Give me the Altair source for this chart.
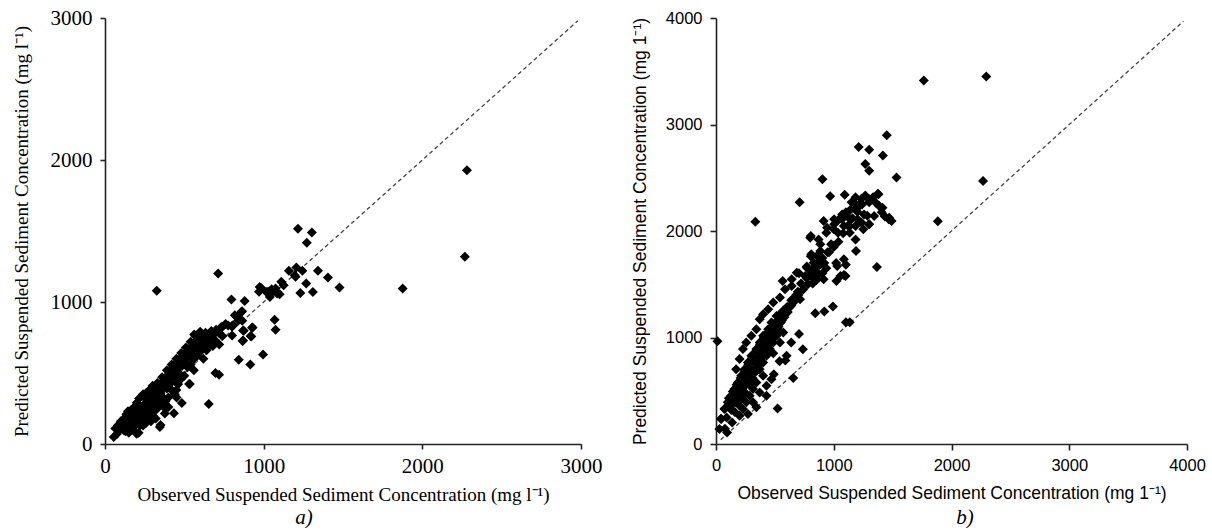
import altair as alt
import pandas as pd

# ---------------- Panel a data (observed, predicted) ----------------
a_obs = [
    55, 65, 75, 90, 100, 110, 120, 130, 140, 150,
    155, 160, 170, 175, 180, 190, 195, 200, 205, 210,
    215, 220, 225, 230, 235, 240, 245, 250, 255, 260,
    265, 270, 275, 280, 285, 290, 295, 300, 305, 310,
    315, 320, 330, 335, 340, 345, 350, 355, 360, 365,
    370, 375, 380, 385, 390, 395, 400, 405, 410, 415,
    420, 425, 430, 435, 440, 445, 450, 455, 460, 465,
    470, 475, 480, 485, 490, 495, 500, 510, 515, 520,
    530, 535, 540, 550, 555, 560, 570, 575, 580, 590,
    600, 610, 620, 630, 640, 650, 660, 670, 680, 690,
    700, 720, 740, 760,
    120, 135, 145, 165, 185, 100, 80, 200, 215, 240,
    260, 280, 300, 250, 270, 240, 180, 160, 310, 330,
    300, 320, 350, 380, 400, 420, 440, 460, 480, 500,
    520, 540, 560, 580, 600, 620, 640, 660, 680, 700,
    720, 740, 250, 270, 300, 330, 360, 390, 420, 450,
    480, 510, 540, 570, 600, 560, 620, 450, 380, 150,
    170, 130, 220, 260, 290,
    2281, 2268, 1876, 1478, 1405, 1342, 1216, 1304, 1272, 1159,
    1206, 1244, 1201, 1268, 1231, 1310, 1111, 1126, 1101, 1195,
    1075, 1056, 1039, 1027, 986, 971, 1017, 975, 1050, 1085,
    1069, 1075, 996, 843, 916, 930, 918, 880, 797, 859,
    832, 807, 865, 800, 867, 875, 729, 713, 326, 654,
    696, 719, 562, 633, 530, 451, 484, 377, 434, 350,
    199, 459, 535, 400, 346, 212,
    801, 870, 927, 870, 922, 803, 734, 776, 818, 864, 839,
]
a_pred = [
    50, 110, 70, 95, 135, 120, 95, 155, 140, 175,
    120, 205, 180, 150, 215, 190, 235, 170, 210, 250,
    200, 180, 230, 150, 265, 210, 190, 240, 285, 220,
    305, 250, 200, 270, 325, 290, 240, 345, 300, 265,
    365, 320, 385, 340, 300, 405, 360, 425, 385, 330,
    445, 410, 465, 420, 390, 485, 450, 505, 470, 430,
    525, 490, 545, 510, 470, 555, 520, 575, 540, 500,
    585, 560, 605, 550, 625, 590, 570, 635, 600, 655,
    620, 675, 640, 690, 660, 705, 680, 725, 700, 745,
    715, 765, 735, 700, 775, 750, 725, 795, 765, 735,
    805, 780, 825, 845,
    180, 210, 230, 240, 260, 160, 130, 290, 320, 350,
    360, 380, 410, 160, 170, 130, 120, 100, 230, 250,
    200, 180, 280, 300, 260, 380, 350, 420, 460, 480,
    540, 560, 600, 620, 650, 690, 660, 700, 690, 720,
    700, 760, 330, 350, 380, 430, 470, 520, 560, 600,
    640, 680, 720, 760, 790, 520, 600, 380, 250, 80,
    110, 90, 130, 150, 160,
    1927, 1319, 1095, 1102, 1172, 1220, 1515, 1489, 1418, 1220,
    1243, 1220, 1177, 1130, 1064, 1071, 1142, 1118, 1054, 1189,
    1095, 1072, 1036, 1072, 1096, 1072, 1071, 1106, 1090, 1060,
    875, 804, 630, 594, 559, 821, 761, 1007, 1017, 929,
    894, 835, 868, 828, 725, 797, 821, 1200, 1079, 281,
    500, 488, 771, 783, 422, 328, 288, 215, 217, 134,
    73, 422, 422, 328, 120, 80,
    764, 800, 818, 729, 757, 835, 823, 835, 906, 934, 870,
]

# ---------------- Panel b data (observed, predicted) ----------------
b_obs = [
    1765, 2295, 2268, 1884, 334, 12, 523, 1450, 1212, 1301,
    1417, 1268, 1301, 1533, 904, 710, 970, 1093, 1367, 993,
    920, 843, 1103, 1136, 656, 738, 705, 639, 589, 540,
    566, 643, 486, 491,
    1185, 1235, 1268, 1334, 1374, 1301, 1152, 1185, 1103, 1136,
    1069, 1003, 1036, 1185, 1235, 1301, 1384, 1407, 1434, 1467,
    1185, 1285, 1218,
    800, 886, 977, 1000, 943, 914, 809, 786, 857, 914,
    1029, 1086, 1057, 1100, 1023, 1251, 1189, 1171, 1143, 1229,
    1300, 1357, 1380, 1414, 1471, 1491, 1343, 1300, 1257, 1043,
    1071, 1114, 1143,
    993, 947, 904, 871, 828, 805, 771, 722, 695, 672,
    639, 606, 573, 533, 507, 473, 440, 407, 374, 341,
    308, 275, 242, 209, 175, 142, 109, 76, 43, 76,
    643, 729, 757, 771, 829, 857, 886, 714, 657, 600,
    557, 514, 471, 443, 400, 371, 343, 300, 271, 243,
    214, 186, 157, 129, 100, 71, 43, 29,
    514, 571, 543, 486, 457, 429, 400, 371, 400, 343,
    314, 286, 257, 229, 200, 371, 429, 314, 343, 271,
    137, 94, 429, 471, 600,
    200, 229, 257, 300, 343, 371, 400, 443, 486, 543,
    586, 686, 171,
    120, 150, 180, 210, 240, 270, 300, 330, 360, 390,
    420, 450, 480, 510, 540, 570, 160, 190, 220, 250,
    280, 310, 340, 370, 400, 430, 460, 490, 520, 550,
    580, 610, 640, 670, 700, 740, 780, 820, 850, 880,
    920, 960, 1000, 1040, 1080, 1120, 1160, 1200, 1240,
    1020, 1086, 1103, 937, 904, 854, 821, 805, 771, 705,
    1003, 1086, 1136, 1202, 937, 871, 805,
    90, 130, 170, 200, 230, 260, 290, 320, 350, 380,
    410, 440, 470, 500, 530, 560, 590, 620, 650, 680,
    150, 190, 230, 270, 310, 350, 390, 430, 470, 510,
]
b_pred = [
    3413, 3451, 2470, 2092, 2086, 965, 333, 2899, 2788, 2762,
    2708, 2629, 2565, 2502, 2486, 2270, 2327, 2340, 1661, 1292,
    1245, 1228, 1143, 1143, 619, 889, 1032, 952, 784, 778,
    1531, 1547, 853, 656,
    2318, 2302, 2334, 2318, 2350, 2270, 2270, 2207, 2175, 2048,
    2111, 2111, 1984, 2048, 2080, 2064, 2238, 2175, 2137, 2111,
    1921, 2143, 2238,
    1937, 1875, 1875, 2016, 2031, 2094, 1781, 1578, 1578, 1547,
    1672, 1734, 1578, 1578, 1531, 2016, 1812, 2266, 2203, 2266,
    2297, 2266, 2344, 2219, 2125, 2094, 2141, 2063, 2156, 2109,
    2156, 2141, 2109,
    1864, 1800, 1746, 1699, 1651, 1603, 1556, 1508, 1429, 1381,
    1349, 1286, 1254, 1207, 1143, 1095, 1048, 1000, 937, 873,
    810, 746, 683, 619, 556, 492, 429, 333, 238, 143,
    1484, 1500, 1578, 1656, 1703, 1766, 1812, 1359, 1328, 1281,
    1234, 1203, 1141, 1078, 1016, 953, 891, 828, 766, 703,
    641, 578, 516, 453, 391, 328, 234, 141,
    1016, 1047, 953, 953, 891, 828, 766, 703, 641, 578,
    516, 453, 391, 328, 266, 484, 453, 391, 344, 281,
    203, 109, 547, 609, 828,
    797, 891, 953, 1016, 1078, 1172, 1219, 1266, 1328, 1375,
    1453, 1609, 703,
    350, 400, 450, 520, 580, 650, 700, 760, 820, 880,
    940, 1000, 1060, 1120, 1180, 1230, 300, 370, 430, 480,
    560, 620, 680, 750, 850, 900, 960, 1020, 1080, 1140,
    1190, 1240, 1300, 1350, 1400, 1450, 1500, 1560, 1620, 1680,
    1700, 1800, 1850, 1900, 1980, 2050, 2120, 2180, 2250,
    1699, 1588, 1683, 1651, 1603, 1540, 1508, 1762, 1667, 1603,
    2064, 2048, 1984, 2111, 1984, 1921, 1953,
    250, 320, 390, 440, 500, 560, 620, 680, 740, 800,
    860, 920, 980, 1040, 1100, 1160, 1220, 1280, 1340, 1400,
    400, 470, 540, 610, 680, 750, 820, 890, 960, 1030,
]

# 1:1 reference lines
a_line_obs = [40, 2980]
a_line_pred = [40, 2980]
b_line_obs = [40, 3970]
b_line_pred = [40, 3970]

a_ticks = [0, 1000, 2000, 3000]
b_ticks = [0, 1000, 2000, 3000, 4000]

a_xtitle = "Observed Suspended Sediment Concentration (mg l\u207b\u00b9)"
a_ytitle = "Predicted Suspended Sediment Concentration (mg l\u207b\u00b9)"
b_xtitle = "Observed Suspended Sediment Concentration (mg 1\u207b\u00b9)"
b_ytitle = "Predicted Suspended Sediment Concentration (mg 1\u207b\u00b9)"

df_a = pd.DataFrame({"obs": a_obs, "pred": a_pred})
df_b = pd.DataFrame({"obs": b_obs, "pred": b_pred})
line_a = pd.DataFrame({"obs": a_line_obs, "pred": a_line_pred})
line_b = pd.DataFrame({"obs": b_line_obs, "pred": b_line_pred})


def make_panel(df, line_df, ticks, dmax, xtitle, ytitle, font, lab_size, tit_size,
               xlabpad, xtitpad, ylabpad, ytitpad, ticksize, w, h, caption, cap_x):
    common = dict(
        values=ticks, format="d", grid=False, labelFlush=False,
        labelFont=font, labelFontSize=lab_size, labelColor="black",
        titleFont=font, titleFontSize=tit_size, titleFontWeight="normal",
        titleColor="black", domainColor="#222222", tickColor="#222222",
        domainWidth=1.6, tickWidth=1.6, tickSize=ticksize, labelOverlap=False,
    )
    xs = alt.Scale(domain=[0, dmax], nice=False, zero=True)
    ys = alt.Scale(domain=[0, dmax], nice=False, zero=True)
    xax = alt.Axis(title=xtitle, labelPadding=xlabpad, titlePadding=xtitpad, **common)
    yax = alt.Axis(title=ytitle, labelPadding=ylabpad, titlePadding=ytitpad, **common)

    pts = alt.Chart(df).mark_point(
        shape="diamond", filled=True, color="black", size=100, opacity=1
    ).encode(
        x=alt.X("obs:Q", scale=xs, axis=xax),
        y=alt.Y("pred:Q", scale=ys, axis=yax),
    )
    ln = alt.Chart(line_df).mark_line(
        color="#444444", strokeDash=[4, 3], strokeWidth=1.3
    ).encode(x="obs:Q", y="pred:Q")
    cap = alt.Chart(pd.DataFrame({"t": [caption]})).mark_text(
        font="Liberation Serif", fontStyle="italic", fontSize=21,
        color="black", baseline="middle", align="center"
    ).encode(text="t:N", x=alt.value(cap_x), y=alt.value(h + 74))
    return alt.layer(ln, pts, cap).properties(width=w, height=h)


panel_a = make_panel(df_a, line_a, a_ticks, 3000, a_xtitle, a_ytitle,
                     "Liberation Serif", 21, 19, 6, 9, 8, 19, 5, 476, 426, "a)", 199)
panel_b = make_panel(df_b, line_b, b_ticks, 4000, b_xtitle, b_ytitle,
                     "Liberation Sans", 16.5, 17.5, 7, 11, 8, 16, 6, 471, 426, "b)", 249)

chart = alt.hconcat(panel_a, panel_b, spacing=135, bounds="flush").properties(
    padding={"left": 12, "top": 7, "right": 0, "bottom": 0},
    background="white",
).configure_view(stroke=None)

chart.save("out.html", embed_options={"renderer": "svg", "actions": False})
